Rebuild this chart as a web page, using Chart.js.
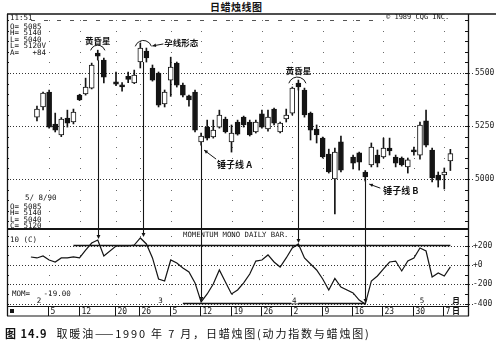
<!DOCTYPE html>
<html>
<head>
<meta charset="utf-8">
<script src="https://cdn.jsdelivr.net/npm/chart.js@4.4.1/dist/chart.umd.min.js"></script>
<style>
  html, body { margin: 0; padding: 0; background: #fff; }
  #wrap { position: relative; width: 496px; height: 343px; overflow: hidden; background: #fff; }
  #wrap canvas { position: absolute; left: 0; top: 0; }
  .title { position: absolute; left: 210px; top: -1px; font: bold 10px 'Noto Sans CJK SC', sans-serif; letter-spacing: 0.5px; color: #111; }
  .cap { position: absolute; left: 5px; top: 325px; font: 11px 'Noto Sans CJK SC', sans-serif; letter-spacing: 1.8px; color: #111; white-space: nowrap; }
  .cap b { font-weight: bold; margin-right: 9px; letter-spacing: 1px; }
</style>
</head>
<body>
<div id="wrap">
  <div class="title">日蜡烛线图</div>
  <canvas id="price" width="496" height="343"></canvas>
  <canvas id="mom" width="496" height="343"></canvas>
  <div class="cap"><b>图 14.9</b>取暖油——1990 年 7 月，日蜡烛图(动力指数与蜡烛图)</div>
</div>
<script>
// ── DATA (heating oil, daily, Feb–May 1990) ──
const DATES = [
  '1990-01-31',
  '1990-02-01','1990-02-02','1990-02-05','1990-02-06','1990-02-07','1990-02-08','1990-02-09',
  '1990-02-12','1990-02-13','1990-02-14','1990-02-15','1990-02-16','1990-02-20','1990-02-21',
  '1990-02-22','1990-02-23','1990-02-26','1990-02-27','1990-02-28',
  '1990-03-01','1990-03-02','1990-03-05','1990-03-06','1990-03-07','1990-03-08','1990-03-09',
  '1990-03-12','1990-03-13','1990-03-14','1990-03-15','1990-03-16','1990-03-19','1990-03-20',
  '1990-03-21','1990-03-22','1990-03-23','1990-03-26','1990-03-27','1990-03-28','1990-03-29','1990-03-30',
  '1990-04-02','1990-04-03','1990-04-04','1990-04-05','1990-04-06','1990-04-09','1990-04-10',
  '1990-04-11','1990-04-12','1990-04-16','1990-04-17','1990-04-18','1990-04-19','1990-04-20',
  '1990-04-23','1990-04-24','1990-04-25','1990-04-26','1990-04-27','1990-04-30',
  '1990-05-01','1990-05-02','1990-05-03','1990-05-04','1990-05-07','1990-05-08',
];
const OPEN = [null,
  5292,5340,5410,5259,5208,5288,5269,5396,5401,5429,5594,5561,5458,5445,5485,5453,5552,5604,5524,
  5500,5354,5467,5547,5443,5392,5410,5175,5245,5198,5245,5283,5175,5269,5292,5269,5222,5307,5236,5330,5222,5283,
  5311,5453,5420,5311,5236,5193,5118,5000,5175,5104,5123,5033,5066,5113,5104,5146,5104,5099,5057,5132,
  5113,5274,5137,5019,5019,5085];
const HIGH = [null,
  5344,5410,5420,5311,5290,5325,5330,5400,5476,5547,5608,5571,5505,5455,5505,5514,5642,5618,5538,
  5505,5420,5575,5552,5453,5396,5420,5217,5278,5278,5325,5292,5255,5278,5297,5278,5278,5325,5325,5335,5269,5330,
  5434,5467,5429,5316,5255,5198,5141,5146,5203,5113,5127,5040,5170,5137,5193,5193,5113,5104,5099,5151,
  5269,5325,5146,5033,5052,5140];
const LOW = [null,
  5274,5326,5240,5222,5200,5245,5260,5370,5396,5425,5561,5453,5440,5415,5455,5450,5524,5552,5462,
  5340,5340,5390,5434,5387,5344,5222,5160,5184,5193,5240,5217,5127,5207,5245,5203,5217,5240,5226,5255,5217,5269,
  5302,5420,5292,5184,5170,5099,5028,4835,5033,5047,5042,4990,5057,5057,5099,5113,5057,5061,5028,5113,
  5094,5151,4986,4962,4953,5040];
const CLOSE = [null,
  5330,5406,5245,5231,5283,5264,5316,5373,5434,5538,5580,5481,5448,5435,5470,5491,5618,5571,5467,
  5349,5410,5528,5443,5396,5373,5231,5203,5193,5231,5302,5222,5217,5212,5255,5208,5269,5245,5292,5264,5264,5302,
  5429,5434,5302,5231,5208,5104,5033,5127,5042,5075,5080,5010,5151,5075,5146,5132,5075,5066,5090,5128,
  5255,5160,5005,4995,5033,5120];
// 10-day momentum of the close
const MOMENTUM = [83,
  73,93,52,31,73,73,83,73,155,228,259,93,197,197,197,207,280,218,73,
  -145,-166,52,21,-31,-73,-186,-383,-300,-197,-52,-176,-300,-259,-186,-93,41,52,104,31,-21,73,
  176,218,73,10,-52,-145,-259,-140,-228,-290,-363,-405,-166,-114,-41,31,41,-62,41,73,
  176,145,-124,-83,-114,-19];

const TICK_DATES  = ['1990-02-05','1990-02-12','1990-02-20','1990-02-26','1990-03-05','1990-03-12','1990-03-19',
                     '1990-03-26','1990-04-02','1990-04-09','1990-04-16','1990-04-23','1990-04-30','1990-05-07'];
const TICK_LABELS = ['5','12','20','26','5','12','19','26','2','9','16','23','30','7'];
const PRICE_TICKS = [5000, 5250, 5500];
const MOM_TICKS   = [-400, -200, 0, 200];

// ── HELPERS ──
const BASE = Date.UTC(1990, 1, 1);
function slotOf(iso) {               // weekday slot counted from 1 Feb 1990
  const t = Date.parse(iso + 'T00:00:00Z');
  const step = t >= BASE ? 86400000 : -86400000;
  let n = 0;
  for (let d = BASE; d !== t; d += step) {
    const w = new Date(step > 0 ? d : d + step).getUTCDay();
    if (w > 0 && w < 6) n += step > 0 ? 1 : -1;
  }
  return n;
}
const at = (iso) => DATES.indexOf(iso);
const SLOT = DATES.map(slotOf);
const X_MIN = -4.93, X_MAX = 70.9;
const INK = '#141414';
const MONO = "'DejaVu Sans Mono', monospace";
const CJK = "'Noto Sans CJK SC', sans-serif";

function txt(ctx, s, x, y, size = 7.5, align = 'left', font = MONO, weight = '400') {
  ctx.font = `${weight} ${size}px ${font}`; ctx.textAlign = align; ctx.textBaseline = 'middle';
  ctx.fillText(s, x, y);
}
function line(ctx, x1, y1, x2, y2, w = 1) { ctx.lineWidth = w; ctx.beginPath(); ctx.moveTo(x1, y1); ctx.lineTo(x2, y2); ctx.stroke(); }
function arrowHead(ctx, x, y, ang, s = 4) {
  ctx.beginPath(); ctx.moveTo(x, y);
  ctx.lineTo(x - s * Math.cos(ang - 0.45), y - s * Math.sin(ang - 0.45));
  ctx.lineTo(x - s * Math.cos(ang + 0.45), y - s * Math.sin(ang + 0.45));
  ctx.closePath(); ctx.fill();
}
function arrow(ctx, x1, y1, x2, y2) { line(ctx, x1, y1, x2, y2, 1); arrowHead(ctx, x2, y2, Math.atan2(y2 - y1, x2 - x1)); }
function arc(ctx, cx, cy, r) { ctx.lineWidth = 1; ctx.beginPath(); ctx.arc(cx, cy, r, Math.PI * 1.1, Math.PI * 1.9); ctx.stroke(); }

const xAxis = { type: 'linear', min: X_MIN, max: X_MAX, display: false, offset: false, grid: { offset: false } };

// ── PRICE PANEL ──
const candles = DATES.map((d, i) => i).filter(i => OPEN[i] !== null);
const wicks  = candles.map(i => ({ x: SLOT[i], y: [LOW[i], HIGH[i]] }));
const bodies = candles.map(i => ({ x: SLOT[i], y: [Math.min(OPEN[i], CLOSE[i]), Math.max(OPEN[i], CLOSE[i])] }));
const upCol  = candles.map(i => CLOSE[i] >= OPEN[i] ? '#fff' : INK);

const priceDeco = {
  id: 'priceDeco',
  beforeDatasetsDraw(chart) {
    const { ctx, chartArea: a, scales: { x, y } } = chart;
    ctx.save();
    ctx.fillStyle = '#6a6a6a';
    for (const d of TICK_DATES) {
      const px = Math.round(x.getPixelForValue(slotOf(d)));
      for (let v = 4800; v <= 5750; v += 50) ctx.fillRect(px, Math.round(y.getPixelForValue(v)), 1, 1);
    }
    ctx.strokeStyle = '#333'; ctx.setLineDash([1, 2]);
    for (const v of PRICE_TICKS) { const py = Math.round(y.getPixelForValue(v)) + 0.5; line(ctx, a.left, py, a.right + 6, py, 1); }
    ctx.strokeStyle = '#555'; ctx.setLineDash([4, 9]);
    const p5750 = Math.round(y.getPixelForValue(5750)) + 0.5;
    line(ctx, a.left + 24, p5750, 380, p5750, 1);
    ctx.restore();
  },
  afterDatasetsDraw(chart) {
    const { ctx, chartArea: a, scales: { x, y } } = chart;
    const X = (iso) => x.getPixelForValue(SLOT[at(iso)]);
    ctx.save();
    ctx.strokeStyle = INK; ctx.fillStyle = INK;

    // evening star 1
    let cx = X('1990-02-15'), cy = y.getPixelForValue(HIGH[at('1990-02-15')]) + 2.5;
    arc(ctx, cx, cy, 7.5);
    txt(ctx, '黄昏星', cx, cy - 12, 8.5, 'center', CJK, '700');
    // harami
    cx = (X('1990-02-26') + X('1990-02-27')) / 2; cy = y.getPixelForValue(HIGH[at('1990-02-26')]) + 6;
    arc(ctx, cx, cy, 8.5);
    arrow(ctx, cx + 20, cy - 5, cx + 9, cy - 3);
    txt(ctx, '孕线形态', cx + 21, cy - 6, 8.5, 'left', CJK, '700');
    // evening star 2
    cx = X('1990-04-03') - 1; cy = y.getPixelForValue(HIGH[at('1990-04-03')]) + 6;
    arc(ctx, cx, cy, 9);
    txt(ctx, '黄昏星', cx + 1, cy - 15, 8.5, 'center', CJK, '700');
    // hammers
    cx = X('1990-03-12'); cy = y.getPixelForValue(LOW[at('1990-03-12')]);
    arrow(ctx, cx + 15, cy + 14, cx + 3, cy + 5);
    txt(ctx, '锤子线 A', cx + 16, cy + 19, 9, 'left', CJK, '700');
    cx = X('1990-04-18'); cy = y.getPixelForValue(LOW[at('1990-04-18')]);
    arrow(ctx, cx + 15, cy + 7, cx + 4, cy + 3);
    txt(ctx, '锤子线 B', cx + 18, cy + 9, 9, 'left', CJK, '700');

    // info block
    const n = OPEN.length - 1;
    ctx.fillStyle = INK;
    txt(ctx, '11:51', 10, 18.5);
    txt(ctx, `O= ${OPEN[n]}`, 10, 27);
    txt(ctx, `H= ${HIGH[n]}`, 10, 33.5);
    txt(ctx, `L= ${LOW[n]}`, 10, 40);
    txt(ctx, `L= ${CLOSE[n]}V`, 10, 46.5);
    txt(ctx, 'A=   +84', 10, 53);
    txt(ctx, '5/ 8/90', 25, 198);
    txt(ctx, `O= ${OPEN[n]}`, 10, 207);
    txt(ctx, `H= ${HIGH[n]}`, 10, 213.3);
    txt(ctx, `L= ${LOW[n]}`, 10, 219.6);
    txt(ctx, `C= ${CLOSE[n]}`, 10, 226);
    txt(ctx, '© 1989 CQG INC.', 386, 17.5, 7);

    // right / left border ticks
    ctx.strokeStyle = INK;
    for (let v = 4800; v <= 5750; v += 50) {
      const py = Math.round(y.getPixelForValue(v)) + 0.5;
      line(ctx, a.right - 3, py, a.right, py, 1);
      line(ctx, a.left, py, a.left + 2, py, 1);
    }
    ctx.restore();
  }
};

const priceChart = new Chart(document.getElementById('price'), {
  type: 'bar',
  data: {
    datasets: [
      { data: bodies, barThickness: 5, grouped: false, borderSkipped: false, borderWidth: 1, minBarLength: 2,
        borderColor: INK, backgroundColor: upCol, order: 0 },
      { data: wicks, barThickness: 1, grouped: false, borderWidth: 0, backgroundColor: INK, order: 1 },
    ]
  },
  options: {
    responsive: false, animation: false, events: [],
    layout: { padding: { left: 7, top: 15, bottom: 114, right: 0 } },
    plugins: { legend: { display: false }, tooltip: { enabled: false } },
    scales: {
      x: xAxis,
      y: {
        position: 'right', min: 4764, max: 5774,
        afterFit: s => { s.width = 28; },
        afterBuildTicks: s => { s.ticks = PRICE_TICKS.map(v => ({ value: v })); },
        grid: { display: false, drawTicks: false }, border: { display: false },
        ticks: { padding: 7, color: '#222', font: { family: MONO, size: 8 }, callback: v => String(v) }
      }
    }
  },
  plugins: [priceDeco]
});

// ── MOMENTUM PANEL ──
const momDeco = {
  id: 'momDeco',
  beforeDatasetsDraw(chart) {
    const { ctx, chartArea: a, scales: { x, y } } = chart;
    ctx.save();
    ctx.fillStyle = '#6a6a6a';
    for (const d of TICK_DATES) {
      const px = Math.round(x.getPixelForValue(slotOf(d)));
      for (let v = -300; v <= 300; v += 100) ctx.fillRect(px, Math.round(y.getPixelForValue(v)), 1, 1);
    }
    ctx.strokeStyle = '#333'; ctx.setLineDash([1, 2]);
    for (const v of MOM_TICKS) { const py = Math.round(y.getPixelForValue(v)) + 0.5; line(ctx, a.left, py, a.right + 5, py, 1); }
    ctx.setLineDash([]);
    ctx.strokeStyle = INK;
    const X = (iso) => x.getPixelForValue(SLOT[at(iso)]);
    const p200 = Math.round(y.getPixelForValue(200)) - 0.5, p400 = Math.round(y.getPixelForValue(-400)) - 0.5;
    line(ctx, X('1990-02-09'), p200, X('1990-05-08'), p200, 1.6);
    line(ctx, X('1990-03-07'), p400, X('1990-04-18'), p400, 1.6);

    // month numbers on the -400 row
    let last = '';
    DATES.forEach((d, i) => {
      const m = d.slice(5, 7);
      if (m !== last && i > 0) {
        const px = x.getPixelForValue(SLOT[i]) + 2;
        ctx.fillStyle = '#fff'; ctx.fillRect(px - 3, p400 - 5, 7, 5);
        ctx.fillStyle = INK; txt(ctx, String(+m), px, p400 - 2.5, 7.5, 'center');
      }
      last = m;
    });
    ctx.fillStyle = '#fff'; ctx.fillRect(451, p400 - 7, 10, 7);
    ctx.fillStyle = INK; txt(ctx, '月', 456, p400 - 3, 8, 'center', CJK, '700');
    ctx.restore();
  },
  afterDraw(chart) {
    const { ctx, chartArea: a, scales: { x, y } } = chart;
    const py1 = priceChart.scales.y, a1 = priceChart.chartArea;
    const X = (iso) => x.getPixelForValue(SLOT[at(iso)]);
    ctx.save();
    ctx.strokeStyle = INK; ctx.fillStyle = INK;

    // pattern → momentum pointers
    const drops = [
      { x: X('1990-02-15'), top: LOW[at('1990-02-15')], m: MOMENTUM[at('1990-02-15')] },
      { x: (X('1990-02-26') + X('1990-02-27')) / 2, top: LOW[at('1990-02-27')], m: MOMENTUM[at('1990-02-26')] },
      { x: X('1990-03-12'), top: LOW[at('1990-03-12')], m: MOMENTUM[at('1990-03-12')] },
      { x: X('1990-04-03'), top: LOW[at('1990-04-03')], m: MOMENTUM[at('1990-04-03')] },
      { x: X('1990-04-18'), top: LOW[at('1990-04-18')], m: MOMENTUM[at('1990-04-18')] },
    ];
    for (const d of drops) {
      const px = Math.round(d.x) + 0.5, y0 = py1.getPixelForValue(d.top), y1 = y.getPixelForValue(d.m) - 1;
      line(ctx, px, y0, px, y1 - 2, 1.1);
      arrowHead(ctx, px, y1, Math.PI / 2, 4.5);
    }

    // texts
    txt(ctx, '10 (C)', 10, 240);
    txt(ctx, 'MOMENTUM MONO DAILY BAR.', 183, 235.5, 7.3);
    txt(ctx, 'MOM=   -19.00', 12, 294);

    // frame
    line(ctx, a.left, 14, 496, 14, 1.5);
    line(ctx, a.left + 0.5, 14, a.left + 0.5, 316, 1.3);
    line(ctx, a.right + 0.5, 14, a.right + 0.5, 316, 1.3);
    line(ctx, a.left, a1.bottom, a.right, a1.bottom, 2);
    line(ctx, a.left, a.bottom + 0.5, a.right, a.bottom + 0.5, 1.2);
    line(ctx, a.left, 316, a.right + 1, 316, 1.2);
    for (let v = -400; v <= 300; v += 100) {
      const p = Math.round(y.getPixelForValue(v)) + 0.5;
      line(ctx, a.right - 3, p, a.right, p, 1); line(ctx, a.left, p, a.left + 2, p, 1);
    }

    // date strip
    ctx.fillRect(10, 309, 4, 4);
    TICK_DATES.forEach((d, i) => {
      const px = Math.round(x.getPixelForValue(slotOf(d))) - 0.5;
      line(ctx, px, a.bottom, px, 316, 1);
      txt(ctx, TICK_LABELS[i], px + 2, 311.5, 8);
    });
    txt(ctx, '日', 456, 311, 8, 'center', CJK, '700');
    ctx.restore();
  }
};

new Chart(document.getElementById('mom'), {
  type: 'line',
  data: {
    datasets: [{
      data: DATES.map((d, i) => ({ x: SLOT[i], y: MOMENTUM[i] })),
      borderColor: INK, borderWidth: 1.2, pointRadius: 0, tension: 0, fill: false
    }]
  },
  options: {
    responsive: false, animation: false, events: [],
    layout: { padding: { left: 7, top: 229, bottom: 37, right: 0 } },
    plugins: { legend: { display: false }, tooltip: { enabled: false } },
    scales: {
      x: xAxis,
      y: {
        position: 'right', min: -425, max: 373,
        afterFit: s => { s.width = 28; },
        afterBuildTicks: s => { s.ticks = MOM_TICKS.map(v => ({ value: v })); },
        grid: { display: false, drawTicks: false }, border: { display: false },
        ticks: { padding: 5, color: '#222', font: { family: MONO, size: 8 },
                 callback: v => v > 0 ? '+' + v : v === 0 ? '+0' : String(v) }
      }
    }
  },
  plugins: [momDeco]
});
</script>
</body>
</html>
